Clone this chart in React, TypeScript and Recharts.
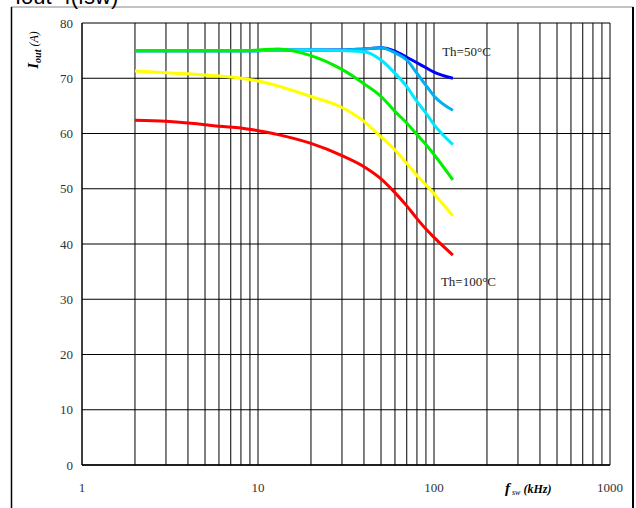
import React from "react";
import {
  LineChart,
  Line,
  XAxis,
  YAxis,
  CartesianGrid,
  ReferenceLine,
  ReferenceDot,
} from "recharts";

// switching frequency (kHz) where each curve is sampled
const fsw = [2, 3, 4, 5, 6, 8, 10, 13, 20, 30, 40, 50, 60, 70, 80, 90, 100, 128];

// output current (A) per heatsink temperature, coolest first
const iTh50 = [75, 75, 75, 75, 75, 75, 75, 75.1, 75.1, 75.1, 75.3, 75.5, 74.9, 73.8, 72.8, 71.9, 71.1, 70.0];
const iTh60 = [75, 75, 75, 75, 75, 75, 75, 75.1, 75.1, 75.1, 75.3, 75.5, 74.6, 73.3, 70.9, 68.7, 66.8, 64.2];
const iTh70 = [75, 75, 75, 75, 75, 75, 75, 75.1, 75.1, 75.0, 74.8, 73.3, 70.9, 68.5, 65.8, 63.7, 61.6, 58.0];
const iTh80 = [75, 75, 75, 75, 75, 75, 75.1, 75.3, 74.1, 71.6, 69.0, 66.7, 64.0, 61.9, 59.8, 58.0, 56.2, 51.6];
const iTh90 = [71.3, 71.0, 70.8, 70.6, 70.4, 70.0, 69.5, 68.6, 66.7, 64.7, 62.2, 59.4, 57.0, 54.6, 52.4, 50.7, 49.1, 45.1];
const iTh100 = [62.4, 62.2, 61.9, 61.6, 61.3, 61.0, 60.5, 59.8, 58.2, 56.0, 54.0, 51.8, 49.3, 46.9, 44.6, 42.7, 41.2, 38.0];

const xTicks = [1, 10, 100, 1000];
const yTicks = [0, 10, 20, 30, 40, 50, 60, 70, 80];
// log grid: every integer step inside each decade
const xGrid = [
  2, 3, 4, 5, 6, 7, 8, 9, 10,
  20, 30, 40, 50, 60, 70, 80, 90, 100,
  200, 300, 400, 500, 600, 700, 800, 900, 1000,
];

const rows = fsw.map((f, k) => ({
  f,
  th50: iTh50[k],
  th60: iTh60[k],
  th70: iTh70[k],
  th80: iTh80[k],
  th90: iTh90[k],
  th100: iTh100[k],
}));

const serif = '"Liberation Serif", "Times New Roman", serif';
const tickStyle = { fontSize: 13, fill: "#333", fontFamily: serif };

export default function App() {
  return (
    <div
      style={{
        position: "fixed",
        left: 0,
        top: 0,
        width: 636,
        height: 508,
        background: "#fff",
      }}
    >
      <LineChart
        width={636}
        height={508}
        data={rows}
        margin={{ top: 23, right: 26, left: 0, bottom: 0 }}
      >
        <CartesianGrid horizontal vertical={false} stroke="#000" strokeOpacity={1} />
        {xGrid.map((v) => (
          <ReferenceLine key={v} x={v} stroke="#000" strokeWidth={1} ifOverflow="visible" />
        ))}
        <XAxis
          dataKey="f"
          type="number"
          scale="log"
          domain={[1, 1000]}
          ticks={xTicks}
          allowDataOverflow
          height={43}
          tickLine={false}
          tickSize={6}
          tickMargin={12}
          axisLine={{ stroke: "#000", strokeWidth: 1.5 }}
          tick={tickStyle}
        />
        <YAxis
          type="number"
          domain={[0, 80]}
          ticks={yTicks}
          width={82}
          tickLine={false}
          tickSize={6}
          tickMargin={3}
          axisLine={{ stroke: "#000", strokeWidth: 1.5 }}
          tick={tickStyle}
        />

        <Line dataKey="th50" type="monotone" stroke="#0000ff" strokeWidth={3} dot={false} isAnimationActive={false} />
        <Line dataKey="th60" type="monotone" stroke="#00b0f0" strokeWidth={3} dot={false} isAnimationActive={false} />
        <Line dataKey="th70" type="monotone" stroke="#00e8ff" strokeWidth={3} dot={false} isAnimationActive={false} />
        <Line dataKey="th80" type="monotone" stroke="#00f000" strokeWidth={3} dot={false} isAnimationActive={false} />
        <Line dataKey="th90" type="monotone" stroke="#ffff00" strokeWidth={3} dot={false} isAnimationActive={false} />
        <Line dataKey="th100" type="monotone" stroke="#ff0000" strokeWidth={3} dot={false} isAnimationActive={false} />

        <ReferenceDot
          x={153}
          y={74.8}
          r={0}
          fill="none"
          stroke="none"
          label={{ value: "Th=50°C", position: "center", fill: "#222", fontSize: 13, fontFamily: serif }}
        />
        <ReferenceDot
          x={157}
          y={33.2}
          r={0}
          fill="none"
          stroke="none"
          label={{ value: "Th=100°C", position: "center", fill: "#222", fontSize: 13, fontFamily: serif }}
        />
      </LineChart>

      {/* page frame, clipped title and axis titles */}
      <svg
        width={636}
        height={508}
        style={{ position: "absolute", left: 0, top: 0, pointerEvents: "none" }}
      >
        <line x1={11} y1={7} x2={633} y2={7} stroke="#888" strokeWidth={1} />
        <line x1={11.5} y1={7} x2={11.5} y2={508} stroke="#000" strokeWidth={1.5} />
        <line x1={633} y1={7} x2={633} y2={508} stroke="#000" strokeWidth={2} />

        <text x={15} y={4} fontSize={22} fontFamily='"Liberation Sans", Arial, sans-serif' fill="#000">
          Iout=f(fsw)
        </text>

        <text
          x={38}
          y={50}
          transform="rotate(-90 38 50)"
          textAnchor="middle"
          fontFamily={serif}
          fill="#000"
        >
          <tspan fontSize={15} fontWeight="bold" fontStyle="italic">I</tspan>
          <tspan fontSize={10} fontWeight="bold" fontStyle="italic" dy={3}>out</tspan>
          <tspan fontSize={12} fontStyle="italic" dy={-3}> (A)</tspan>
        </text>

        <text x={505} y={493} fontFamily={serif} fill="#000">
          <tspan fontSize={15} fontWeight="bold" fontStyle="italic">f</tspan>
          <tspan fontSize={8} fontStyle="italic" dy={2}> sw</tspan>
          <tspan fontSize={12} fontWeight="bold" fontStyle="italic" dy={-2}> (kHz)</tspan>
        </text>
      </svg>
    </div>
  );
}
